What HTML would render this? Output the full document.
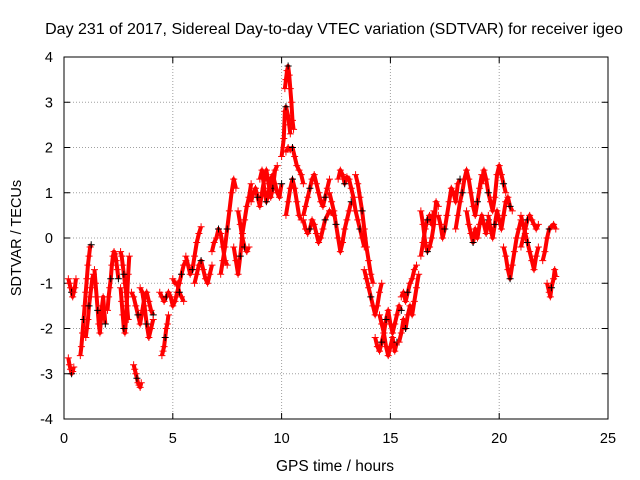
<!DOCTYPE html>
<html><head><meta charset="utf-8"><style>
html,body{margin:0;padding:0;background:#fff;}
svg{display:block;font-family:"Liberation Sans",sans-serif;}
</style></head>
<body>
<svg id="chart" width="640" height="480" viewBox="0 0 640 480">
<text x="334" y="34" font-size="16" text-anchor="middle" fill="#000">Day 231 of 2017, Sidereal Day-to-day VTEC variation (SDTVAR) for receiver igeo</text>
<g id="grid"></g><g id="ticks"></g><g id="marks"></g>
<rect x="64" y="57" width="544" height="362" fill="none" stroke="#000" stroke-width="1"/>
<text x="335" y="471" font-size="15.5" text-anchor="middle">GPS time / hours</text>
<text transform="translate(21,238) rotate(-90)" font-size="14.5" text-anchor="middle">SDTVAR / TECUs</text>
</svg>
<script>
const xTicks = [0,5,10,15,20,25];
const yTicks = [-4,-3,-2,-1,0,1,2,3,4];
const sdtvarArcs = [
[.20,-0.9,.25,-1.0,.30,-1.1,.35,-1.2,.40,-1.3,.45,-1.2,.50,-1.1,.55,-0.9],
[.20,-2.65,.25,-2.8,.30,-2.9,.35,-3.0,.40,-2.95,.45,-2.85],
[.75,-2.6,.80,-2.4,.85,-2.1,.90,-1.8,.95,-1.5,1.0,-1.2,1.05,-0.9,1.1,-0.6,1.15,-0.4,1.2,-0.2,1.25,-0.15],
[1.0,-2.2,1.05,-2.0,1.1,-1.8,1.15,-1.5,1.2,-1.3,1.25,-1.1,1.3,-0.9,1.35,-0.8],
[1.4,-0.7,1.45,-1.0,1.5,-1.3,1.55,-1.6,1.6,-1.9,1.65,-2.1,1.7,-1.8,1.75,-1.5,1.8,-1.3,1.85,-1.6,1.9,-1.9],
[2.0,-1.6,2.05,-1.3,2.1,-1.1,2.15,-0.9,2.2,-0.6,2.25,-0.4,2.3,-0.3,2.35,-0.35,2.4,-0.5,2.45,-0.7,2.5,-0.9],
[2.6,-1.1,2.65,-1.4,2.7,-1.7,2.75,-2.0,2.8,-2.1,2.85,-1.8,2.9,-1.3,2.95,-0.8,3.0,-0.4],
[2.6,-0.3,2.65,-0.4,2.7,-0.6,2.75,-0.8,2.8,-1.0,2.85,-1.2,2.9,-1.5,2.95,-1.8],
[3.2,-2.8,3.25,-2.9,3.3,-3.0,3.35,-3.1,3.4,-3.2,3.45,-3.25,3.5,-3.3,3.55,-3.2],
[3.1,-1.2,3.2,-1.3,3.3,-1.5,3.4,-1.7,3.5,-1.9,3.6,-1.6,3.7,-1.3,3.8,-1.2,3.9,-1.4,4.0,-1.6,4.1,-1.7],
[3.5,-1.1,3.6,-1.2,3.7,-1.5,3.8,-1.9,3.9,-2.2,4.0,-2.0,4.1,-1.8],
[4.5,-2.6,4.55,-2.5,4.6,-2.4,4.65,-2.2,4.7,-2.0,4.75,-1.9,4.8,-1.7],
[4.4,-1.2,4.5,-1.3,4.6,-1.4,4.7,-1.3,4.8,-1.2,4.9,-1.3,5.0,-1.5,5.1,-1.4,5.2,-1.2,5.3,-1.0,5.4,-0.8,5.5,-0.6,5.6,-0.5],
[5.0,-0.9,5.1,-1.0,5.2,-1.0,5.3,-1.2,5.4,-1.3,5.5,-1.4],
[5.6,-0.4,5.7,-0.6,5.8,-0.8,5.9,-0.7,6.0,-0.4,6.1,-0.1,6.2,0.1,6.3,0.25],
[6.0,-1.0,6.1,-0.8,6.2,-0.6,6.3,-0.5,6.4,-0.7,6.5,-0.9,6.6,-1.0,6.7,-0.8,6.8,-0.6],
[6.8,-0.3,6.9,-0.1,7.0,0.0,7.1,0.2,7.2,0.1,7.3,-0.2,7.4,-0.5,7.5,-0.6],
[7.2,-0.8,7.3,-0.5,7.4,-0.2,7.5,0.2,7.6,0.6,7.7,1.0,7.8,1.3,7.9,1.1],
[7.8,-0.2,7.9,-0.5,8.0,-0.8,8.1,-0.4,8.2,0.1,8.3,0.4,8.4,0.7,8.5,0.9,8.6,1.2],
[8.0,0.6,8.1,0.3,8.2,0.0,8.3,-0.2,8.4,-0.3,8.5,-0.2],
[8.6,0.8,8.7,1.0,8.8,1.1,8.9,0.9,9.0,0.7,9.1,1.0,9.2,1.3,9.3,1.5,9.4,1.2,9.5,0.9,9.6,1.1,9.7,1.5,9.8,1.6],
[9.0,1.3,9.1,1.5,9.2,1.1,9.3,0.8,9.4,1.0,9.5,1.3,9.6,1.4,9.7,1.2,9.8,1.0,9.9,0.9,10.0,1.2],
[10.15,3.3,10.2,3.5,10.25,3.7,10.3,3.8,10.35,3.6,10.4,3.3,10.45,3.0,10.5,2.6,10.55,2.4],
[10.0,1.8,10.1,2.2,10.15,2.8,10.2,2.9,10.3,2.7,10.35,2.5,10.4,2.3],
[10.2,1.9,10.3,2.0,10.4,1.95,10.5,2.0,10.6,1.8,10.7,1.6,10.8,1.5,10.9,1.4,11.0,1.2],
[10.2,0.5,10.3,0.8,10.4,1.1,10.5,1.3,10.6,1.1,10.7,0.8,10.8,0.5,10.9,0.4],
[11.0,0.5,11.1,0.7,11.2,0.9,11.3,1.1,11.4,1.3,11.5,1.4,11.6,1.2,11.7,1.0,11.8,0.8,11.9,0.7,12.0,0.9,12.1,1.1,12.2,1.3],
[11.0,0.4,11.1,0.2,11.2,0.1,11.3,0.2,11.4,0.4,11.5,0.3,11.6,0.1,11.7,-0.1,11.8,0.0,11.9,0.2,12.0,0.4,12.2,0.6,12.4,0.5],
[12.2,1.0,12.3,0.8,12.4,0.6,12.5,0.3,12.6,0.0,12.7,-0.3,12.8,-0.1,12.9,0.2,13.0,0.4,13.1,0.6,13.2,0.8],
[12.6,1.3,12.7,1.5,12.8,1.4,12.9,1.2,13.0,1.35,13.1,1.3,13.2,1.1,13.3,0.9,13.4,0.6,13.5,0.4,13.6,0.2,13.7,0.0,13.8,-0.2],
[13.4,1.4,13.5,1.2,13.6,0.9,13.7,0.6,13.8,0.2,13.9,-0.2,14.0,-0.5,14.1,-0.8,14.2,-1.0],
[13.8,-0.7,13.9,-0.9,14.0,-1.1,14.1,-1.3,14.2,-1.5,14.3,-1.7,14.4,-1.5,14.5,-1.2,14.6,-1.0],
[14.3,-2.2,14.4,-2.4,14.5,-2.5,14.6,-2.3,14.7,-2.1,14.8,-2.4,14.9,-2.6,15.0,-2.4,15.1,-2.2,15.2,-2.5,15.3,-2.3],
[14.5,-1.7,14.6,-1.9,14.7,-2.1,14.8,-1.8,14.9,-1.6,15.0,-1.9,15.1,-2.1,15.2,-1.9,15.3,-1.7,15.4,-1.5,15.5,-1.6],
[15.4,-2.3,15.5,-2.1,15.6,-1.8,15.7,-2.0,15.8,-1.7,15.9,-1.5,16.0,-1.7,16.1,-1.4,16.2,-1.1,16.3,-0.8],
[15.5,-1.3,15.6,-1.2,15.7,-1.4,15.8,-1.2,15.9,-1.0,16.0,-0.9,16.1,-0.7,16.2,-0.6],
[16.4,-0.4,16.5,-0.1,16.6,0.2,16.7,0.4,16.8,0.5,16.9,0.3,17.0,0.6],
[16.4,0.6,16.5,0.3,16.6,-0.1,16.7,-0.3,16.8,-0.2,16.9,0.0,17.0,0.3,17.1,0.8,17.2,0.7],
[17.2,0.5,17.3,0.3,17.4,0.0,17.5,0.2,17.6,0.5,17.7,0.8,17.8,1.1,17.9,1.0,18.0,0.8,18.1,1.2,18.2,1.3],
[18.0,0.2,18.1,0.5,18.2,0.8,18.3,1.0,18.4,1.3,18.5,1.5,18.6,1.3,18.7,1.0,18.8,0.7,18.9,0.5,19.0,0.8,19.1,1.1,19.2,1.4],
[18.5,0.6,18.6,0.3,18.7,0.1,18.8,-0.1,18.9,0.2,19.0,0.0,19.1,0.3,19.2,0.5,19.3,0.3,19.4,0.1,19.5,0.4],
[19.2,1.2,19.3,1.5,19.4,1.3,19.5,1.0,19.6,0.8,19.7,0.6,19.8,0.9,19.9,1.4,20.0,1.6,20.1,1.4,20.2,1.2,20.3,1.0],
[19.5,0.5,19.6,0.2,19.7,0.0,19.8,0.3,19.9,0.6,20.0,0.4,20.1,0.2,20.2,0.5,20.3,0.8,20.4,0.9,20.5,0.7,20.6,0.6],
[20.2,-0.2,20.3,-0.4,20.4,-0.7,20.5,-0.9,20.6,-0.6,20.7,-0.3,20.8,0.0,20.9,0.2,21.0,0.4],
[21.0,0.5,21.1,0.3,21.2,0.1,21.3,-0.1,21.4,-0.3,21.5,-0.5,21.6,-0.7,21.7,-0.4,21.8,-0.2],
[21.0,-0.2,21.1,0.0,21.2,0.2,21.3,0.4,21.4,0.5,21.5,0.4,21.6,0.3,21.7,0.2,21.8,0.3],
[22.0,-0.5,22.1,-0.3,22.2,0.0,22.3,0.2,22.4,0.25,22.5,0.3,22.6,0.2],
[22.2,-1.0,22.3,-1.2,22.35,-1.3,22.4,-1.1,22.5,-0.9,22.55,-0.7,22.6,-0.85]
];

const NS='http://www.w3.org/2000/svg';
const X0=64,X1=608,Y0=419,Y1=57;
function xScale(t){return X0+(t-0)/(25-0)*(X1-X0);}
function yScale(v){return Y0-(v-(-4))/(4-(-4))*(Y0-Y1);}
function mk(tag,attrs,parent){const e=document.createElementNS(NS,tag);for(const k in attrs)e.setAttribute(k,attrs[k]);parent.appendChild(e);return e;}
const grid=document.getElementById('grid'),ticks=document.getElementById('ticks'),marks=document.getElementById('marks');

xTicks.forEach(t=>{
  const x=xScale(t);
  if(t>0&&t<25){const g=mk('line',{x1:x,x2:x,y1:Y1,y2:Y0,stroke:'#a0a0a0','stroke-dasharray':'1,2'},grid);
  
  }
  const tk=mk('path',{d:`M${x},${Y0}v-6M${x},${Y1}v6`,stroke:'#000'},ticks);
  
  
  const l=mk('text',{x:x,y:443,'font-size':14.5,'text-anchor':'middle'},ticks);l.textContent=t;
  
  
});
yTicks.forEach(v=>{
  const y=yScale(v);
  if(v>-4&&v<4){const g=mk('line',{x1:X0,x2:X1,y1:y,y2:y,stroke:'#a0a0a0','stroke-dasharray':'1,2'},grid);
  
  }
  const tk=mk('path',{d:`M${X0},${y}h6M${X1},${y}h-6`,stroke:'#000'},ticks);
  
  
  const l=mk('text',{x:53,y:y+5,'font-size':14.5,'text-anchor':'end'},ticks);l.textContent=v;
  
  
});

sdtvarArcs.forEach((arc,i)=>{
  let pts=[];
  for(let j=0;j<arc.length;j+=2)pts.push([xScale(arc[j]),yScale(arc[j+1])]);
  const pl=mk('polyline',{points:pts.map(p=>p.join(',')).join(' '),fill:'none',stroke:'#ff0000','stroke-width':4,'stroke-linejoin':'round'},marks);
  
  
  pts.forEach((p,j)=>{
    const col=(j%7===3)?'#000':'#ff0000';
    const m=mk('path',{d:`M${p[0]-3.5},${p[1]}h7M${p[0]},${p[1]-3.5}v7`,stroke:col,'stroke-width':1},marks);
    
    
  });
});
</script>
</body></html>
